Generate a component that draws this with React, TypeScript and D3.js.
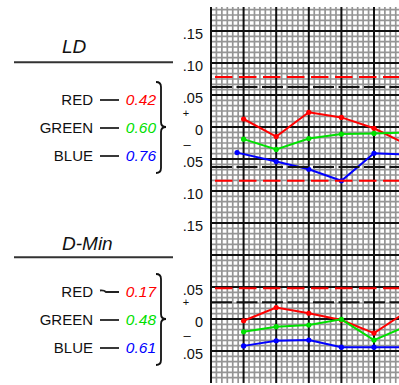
import React from "react";
import * as d3 from "d3";

// ---------- data ----------
const xIdx = [1, 2, 3, 4, 5, 6];
const ldBlueX = [0.8, 2, 3, 4, 5, 6];

const ldRed = [0.0125, -0.015, 0.023, 0.015, -0.002, -0.027];
const ldGreen = [-0.019, -0.035, -0.018, -0.011, -0.01, -0.0085];
const ldBlue = [-0.04, -0.054, -0.066, -0.084, -0.041, -0.043];

const dmRed = [-0.0027, 0.018, 0.009, -0.0016, -0.022, 0.0116];
const dmGreen = [-0.02, -0.012, -0.0094, -0.0005, -0.033, -0.011];
const dmBlue = [-0.042, -0.034, -0.033, -0.044, -0.044, -0.044];

const legendNames = ["RED", "GREEN", "BLUE"];
const ldValues = ["0.42", "0.60", "0.76"];
const dmValues = ["0.17", "0.48", "0.61"];

const ldTicks = [0.15, 0.1, 0.05, 0, -0.05, -0.1];
const ldTickLabels = [".15", ".10", ".05", "0", ".05", ".10"];
const dmTicks = [0.15, 0.05, 0, -0.05];
const dmTickLabels = [".15", ".05", "0", ".05"];

const ldRedLimits = [0.078, -0.084];
const ldBlackLimits = [0.0625, -0.0625];
const dmRedLimits = [0.048];
const dmBlackLimits = [0.026];

const seriesColors = ["#ff0000", "#00e000", "#0000ff"];

// ---------- layout ----------
const W = 399;
const H = 385;
const FONT = "'Liberation Sans', Arial, sans-serif";

const x = d3.scaleLinear().domain([0, 1]).range([211, 243.6]);
const yTop = d3.scaleLinear().domain([-0.1, 0.15]).range([191, 31]);
const yBot = d3.scaleLinear().domain([-0.05, 0.15]).range([351, 223]);

const fineStep = 0.05 / 6;
const hLines = d3.range(-4, 66).map((k) => ({ k, y: yTop(0.15 - k * fineStep) }));
const vLines = d3.range(0, 36).map((i) => ({ i, x: x(i / 6) }));

const line = (ys: d3.ScaleLinear<number, number>) =>
  d3
    .line<[number, number]>()
    .x((d) => x(d[0]))
    .y((d) => ys(d[1]));

function Brace({ x0, top, bottom, mid }: { x0: number; top: number; bottom: number; mid: number }) {
  const v = x0 + 5;
  const tip = x0 + 10;
  const d = `M${x0},${top} Q${v},${top} ${v},${top + 5} L${v},${mid - 5} Q${v},${mid} ${tip},${mid} Q${v},${mid} ${v},${mid + 5} L${v},${bottom - 5} Q${v},${bottom} ${x0},${bottom}`;
  return <path d={d} fill="none" stroke="#111" strokeWidth={1.8} />;
}

function Panel({
  ys,
  title,
  titleY,
  ruleY,
  values,
  ticks,
  tickLabels,
  series,
  seriesX,
  redLimits,
  blackLimits,
  plusV,
  minusV,
  wavyRed,
}: any) {
  const zero = ys(0);
  const rows = legendNames.map((n, i) => ({ n, v: values[i], y: zero - 22 + 28 * i }));
  const lg = line(ys);
  return (
    <g>
      {/* series */}
      {series.map((s: number[], si: number) => {
        const xs = seriesX[si];
        const pts: [number, number][] = s.map((v, i) => [xs[i], v]);
        return (
          <g key={si}>
            <path d={lg(pts) || ""} fill="none" stroke={seriesColors[si]} strokeWidth={2} />
            {pts.map((p, i) => (
              <circle key={i} cx={x(p[0])} cy={ys(p[1])} r={2.6} fill={seriesColors[si]} />
            ))}
          </g>
        );
      })}
      {/* limits */}
      {blackLimits.map((v: number, i: number) => (
        <line key={"b" + i} x1={211} x2={W} y1={ys(v)} y2={ys(v)} stroke="#111" strokeWidth={2} strokeDasharray="21 4.5" />
      ))}
      {redLimits.map((v: number, i: number) => (
        <line key={"r" + i} x1={215} x2={W} y1={ys(v)} y2={ys(v)} stroke="#ff0000" strokeWidth={2} strokeDasharray="17.5 6.5" />
      ))}
      {/* tick labels */}
      {ticks.map((t: number, i: number) => (
        <text key={i} x={203} y={ys(t) + 2.5} textAnchor="end" dominantBaseline="central" fontFamily={FONT} fontSize={14.5} fill="#111">
          {tickLabels[i]}
        </text>
      ))}
      <text x={186} y={ys(plusV)} textAnchor="middle" dominantBaseline="central" fontFamily={FONT} fontSize={11} fill="#111">+</text>
      <text x={187} y={ys(minusV)} textAnchor="middle" dominantBaseline="central" fontFamily={FONT} fontSize={13} fill="#111">–</text>
      {/* title */}
      <text x={62} y={titleY} fontFamily={FONT} fontSize={19} fontStyle="italic" fill="#111">{title}</text>
      <line x1={14} x2={173} y1={ruleY} y2={ruleY} stroke="#333" strokeWidth={2} />
      {/* legend */}
      {rows.map((r, i) => (
        <g key={i}>
          <text x={93} y={r.y} textAnchor="end" fontFamily={FONT} fontSize={15} fill="#111">{r.n}</text>
          {wavyRed && i === 0 ? (
            <path d={`M100,${r.y - 6.5} Q104,${r.y - 7} 106,${r.y - 5} L119,${r.y - 5}`} fill="none" stroke="#222" strokeWidth={1.8} />
          ) : (
            <line x1={100} x2={119} y1={r.y - 5} y2={r.y - 5} stroke="#222" strokeWidth={1.8} />
          )}
          <text x={156} y={r.y} textAnchor="end" fontFamily={FONT} fontSize={15.5} fontStyle="italic" fill={seriesColors[i]}>{r.v}</text>
        </g>
      ))}
      <Brace x0={156} top={rows[0].y - 23} bottom={rows[2].y + 12} mid={zero} />
    </g>
  );
}

export default function App() {
  React.useEffect(() => {
    document.body.style.margin = "0";
  }, []);
  return (
    <svg width={W} height={H} viewBox={`0 0 ${W} ${H}`} style={{ display: "block", position: "absolute", left: 0, top: 0, background: "#fff" }}>
      <rect width={W} height={H} fill="#fff" />
      {/* fine grid */}
      {hLines.filter((l) => l.k % 6 !== 0).map((l) => (
        <line key={"h" + l.k} x1={211} x2={W} y1={l.y} y2={l.y} stroke="#959595" strokeWidth={1.7} />
      ))}
      {vLines.filter((l) => l.i % 6 !== 0).map((l) => (
        <line key={"v" + l.i} x1={l.x} x2={l.x} y1={7} y2={383} stroke="#959595" strokeWidth={1.7} />
      ))}
      {/* major grid */}
      {hLines.filter((l) => l.k % 6 === 0).map((l) => (
        <line key={"H" + l.k} x1={211} x2={W} y1={l.y} y2={l.y} stroke="#111" strokeWidth={2} />
      ))}
      {vLines.filter((l) => l.i % 6 === 0).map((l) => (
        <line key={"V" + l.i} x1={l.x} x2={l.x} y1={7} y2={383} stroke="#111" strokeWidth={2} />
      ))}
      <Panel
        ys={yTop}
        title="LD"
        titleY={53}
        ruleY={62.3}
        values={ldValues}
        ticks={ldTicks}
        tickLabels={ldTickLabels}
        series={[ldRed, ldGreen, ldBlue]}
        seriesX={[xIdx, xIdx, ldBlueX]}
        redLimits={ldRedLimits}
        blackLimits={ldBlackLimits}
        plusV={0.022}
        minusV={-0.027}
        wavyRed={false}
      />
      <Panel
        ys={yBot}
        title="D-Min"
        titleY={250}
        ruleY={257.3}
        values={dmValues}
        ticks={dmTicks}
        tickLabels={dmTickLabels}
        series={[dmRed, dmGreen, dmBlue]}
        seriesX={[xIdx, xIdx, xIdx]}
        redLimits={dmRedLimits}
        blackLimits={dmBlackLimits}
        plusV={0.026}
        minusV={-0.025}
        wavyRed={true}
      />
    </svg>
  );
}
